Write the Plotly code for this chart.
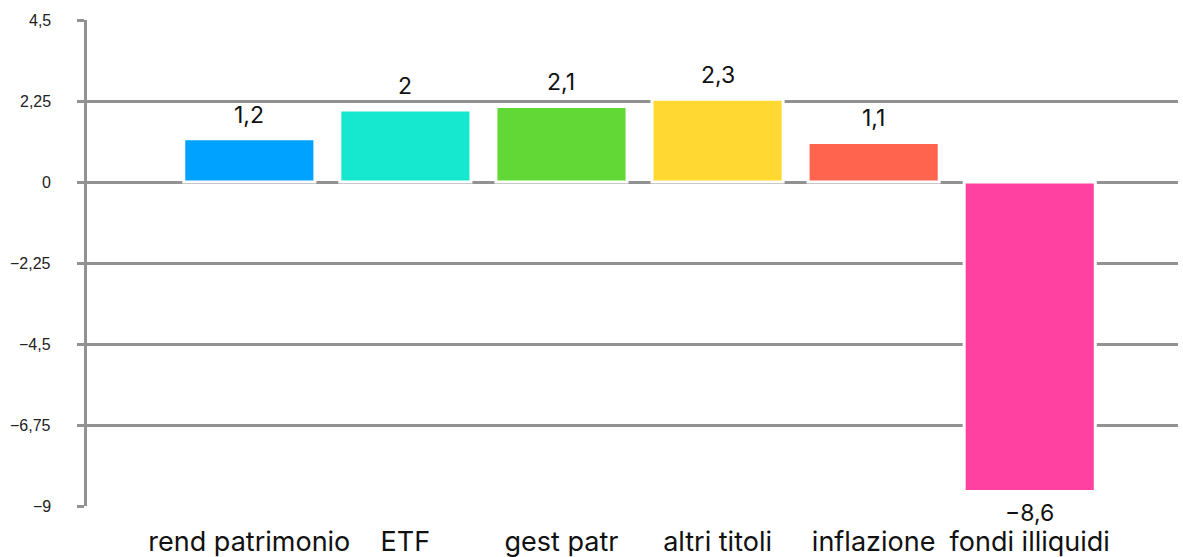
import plotly.graph_objects as go

categories = ["rend patrimonio", "ETF", "gest patr", "altri titoli", "inflazione", "fondi illiquidi"]
values = [1.2, 2.0, 2.1, 2.3, 1.1, -8.6]
colors = ["#00A2FF", "#16E7CF", "#61D836", "#FFD932", "#FF644E", "#FF42A1"]
y_tickvals = [-9, -6.75, -4.5, -2.25, 0, 2.25, 4.5]
y_ticktext = ["−9", "−6,75", "−4,5", "−2,25", "0", "2,25", "4,5"]


def fmt(v):
    s = f"{abs(v):g}".replace(".", ",")
    return ("−" if v < 0 else "") + s


fig = go.Figure()
fig.add_trace(go.Bar(
    x=list(range(len(categories))),
    y=values,
    marker=dict(color=colors, line=dict(color="white", width=3)),
    width=0.84,
    hoverinfo="skip",
))

# value labels above / below the bars
for i, v in enumerate(values):
    fig.add_annotation(
        x=i, y=v, text=fmt(v), showarrow=False,
        yshift=24 if v >= 0 else -21,
        font=dict(family="Inter", size=23, color="#111111"),
    )

# y tick labels placed at a fixed distance left of the axis
for tv, tt in zip(y_tickvals, y_ticktext):
    fig.add_annotation(
        xref="paper", x=0, yref="y", y=tv, text=tt, showarrow=False,
        xanchor="right", yanchor="middle", xshift=-34,
        font=dict(family="Liberation Sans", size=16, color="#222222"),
    )

fig.update_layout(
    width=1183, height=557,
    margin=dict(l=87, r=5, t=20, b=51),
    plot_bgcolor="white", paper_bgcolor="white",
    showlegend=False,
    separators=",.",
)
fig.update_xaxes(
    range=[-1.04, 5.95],
    tickvals=list(range(len(categories))),
    ticktext=categories,
    showgrid=False, zeroline=False, showline=False, ticks="",
    tickfont=dict(family="Inter", size=27, color="#111111"),
    ticklabelstandoff=17,
    automargin=False,
)
fig.update_yaxes(
    range=[-9, 4.5],
    tickvals=y_tickvals,
    showticklabels=False,
    showgrid=True, gridcolor="#929292", gridwidth=2.5,
    zeroline=True, zerolinecolor="#929292", zerolinewidth=2.5,
    showline=True, linecolor="#929292", linewidth=2.5,
    ticks="outside", ticklen=7, tickcolor="#929292", tickwidth=2.5,
    automargin=False,
)

fig.write_html(
    "out.html",
    config={"displayModeBar": False},
    post_script="document.body.style.margin='0';",
)
